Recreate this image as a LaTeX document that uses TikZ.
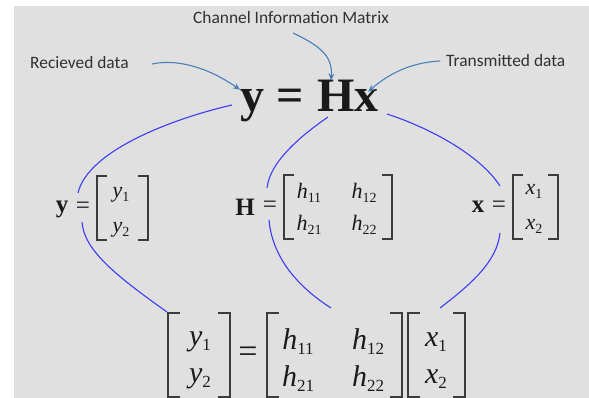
\documentclass[tikz,border=0pt]{standalone}
\usepackage{fontspec}
\newfontfamily\tms{Liberation Serif}
\newfontfamily\lblfont{Carlito}
\usetikzlibrary{arrows.meta}
\definecolor{bg}{HTML}{E0E0E0}
\definecolor{arr}{HTML}{4A7EBB}
\definecolor{blu}{HTML}{3C3CF5}
\definecolor{ink}{HTML}{1A1A1A}
\newcommand\ms[2]{{\tms\fontsize{22}{22}\selectfont\itshape #1}\raisebox{-4pt}{\tms\fontsize{14}{14}\selectfont #2}}
\newcommand\bs[2]{{\tms\fontsize{30}{30}\selectfont\itshape #1}\raisebox{-5pt}{\tms\fontsize{17}{17}\selectfont #2}}
\begin{document}
\begin{tikzpicture}[x=1pt,y=-1pt,
  lbl/.style={font=\lblfont\fontsize{17.4}{18}\selectfont, text=ink!90, inner sep=0},
  big/.style={font=\tms\bfseries\fontsize{48}{48}\selectfont, text=ink, inner sep=0, anchor=base west},
  mid/.style={font=\tms\bfseries\fontsize{25}{25}\selectfont, text=ink, inner sep=0},
  eqs/.style={font=\tms\fontsize{25}{25}\selectfont, text=ink, inner sep=0},
  ent/.style={text=ink, inner sep=0},
  brk/.style={draw=ink!85, line width=1.3pt},
  curv/.style={draw=blu, line width=1.1pt},
  ptr/.style={draw=arr, line width=1.1pt, -{Stealth[length=7pt,width=6pt]}}]
\useasboundingbox (0,0) rectangle (589,398);
\fill[white] (0,0) rectangle (589,398);
\fill[bg] (14,6) rectangle (589,398);
% labels
\node[lbl] (chan) at (291,18) {Channel Information Matrix};
\node[lbl,anchor=west] (recv) at (30,63) {Recieved data};
\node[lbl,anchor=west] (trans) at (446,61) {Transmitted data};
% big equation
\node[big] (bigy) at (240,112) {y};
\node[big] (bigeq) at (276,112) {=};
\node[big] (bigH) at (317,112) {H};
\node[big] (bigx) at (354,112) {x};
% arrows
\coordinate (a1s) at (152,64);
\coordinate (a2s) at (293,33);
\coordinate (a3s) at (440,61);
\draw[ptr] (a1s) .. controls (180,58) and (212,70) .. (bigy.north west);
\draw[ptr] (a2s) .. controls (318,45) and (333,55) .. ([xshift=14pt]bigH.north west);
\draw[ptr] (a3s) .. controls (420,62) and (395,68) .. ([xshift=2pt,yshift=-2pt]bigx.north);
% middle row
\node[mid] (my) at (62,209) {y};
\node[eqs] (myeq) at (83,208) {=};
\draw[brk] (107,176) -- (97,176) -- (97,240) -- (107,240);
\draw[brk] (138,176) -- (148,176) -- (148,240) -- (138,240);
\node[ent] (my1) at (121,195) {\ms{y}{1}};
\node[ent] (my2) at (121,230) {\ms{y}{2}};

\node[mid] (mH) at (245,207) {H};
\node[eqs] (mHeq) at (270,207) {=};
\draw[brk] (294,175) -- (284,175) -- (284,239) -- (294,239);
\draw[brk] (382,175) -- (392,175) -- (392,239) -- (382,239);
\node[ent] (mh11) at (309,193) {\ms{h}{11}};
\node[ent] (mh12) at (364,193) {\ms{h}{12}};
\node[ent] (mh21) at (309,225) {\ms{h}{21}};
\node[ent] (mh22) at (364,225) {\ms{h}{22}};

\node[mid] (mx) at (478,207) {x};
\node[eqs] (mxeq) at (499,207) {=};
\draw[brk] (523,175) -- (513,175) -- (513,239) -- (523,239);
\draw[brk] (548,175) -- (558,175) -- (558,239) -- (548,239);
\node[ent] (mx1) at (534,191) {\ms{x}{1}};
\node[ent] (mx2) at (534,226) {\ms{x}{2}};
% bottom row
\draw[brk] (180,313) -- (168,313) -- (168,397) -- (180,397);
\draw[brk] (218,313) -- (230,313) -- (230,397) -- (218,397);
\node[ent] (by1) at (200,342) {\bs{y}{1}};
\node[ent] (by2) at (200,379) {\bs{y}{2}};
\node[font=\tms\fontsize{34}{34}\selectfont, text=ink, inner sep=0] (beq) at (248,355) {=};
\draw[brk] (279,313) -- (267,313) -- (267,397) -- (279,397);
\draw[brk] (390,313) -- (402,313) -- (402,397) -- (390,397);
\node[ent] (bh11) at (298,342) {\bs{h}{11}};
\node[ent] (bh12) at (368,342) {\bs{h}{12}};
\node[ent] (bh21) at (298,379) {\bs{h}{21}};
\node[ent] (bh22) at (368,379) {\bs{h}{22}};
\draw[brk] (420,313) -- (408,313) -- (408,397) -- (420,397);
\draw[brk] (453,313) -- (465,313) -- (465,397) -- (453,397);
\node[ent] (bx1) at (436,342) {\bs{x}{1}};
\node[ent] (bx2) at (436,379) {\bs{x}{2}};
% blue curves
\coordinate (c1a) at (232,105);
\coordinate (c1b) at (78,193);
\coordinate (c2a) at (82,222);
\coordinate (c2b) at (167,312);
\coordinate (c3a) at (328,117);
\coordinate (c3b) at (267,188);
\coordinate (c4a) at (269,220);
\coordinate (c4b) at (331,308);
\coordinate (c5a) at (387,114);
\coordinate (c5b) at (500,186);
\coordinate (c6a) at (500,233);
\coordinate (c6b) at (440,308);
\draw[curv] (c1a) .. controls (175,118) and (88,150) .. (c1b);
\draw[curv] (c2a) .. controls (84,250) and (115,275) .. (c2b);
\draw[curv] (c3a) .. controls (305,133) and (270,160) .. (c3b);
\draw[curv] (c4a) .. controls (272,255) and (295,285) .. (c4b);
\draw[curv] (c5a) .. controls (430,128) and (480,155) .. (c5b);
\draw[curv] (c6a) .. controls (497,262) and (470,285) .. (c6b);
\end{tikzpicture}
\end{document}
